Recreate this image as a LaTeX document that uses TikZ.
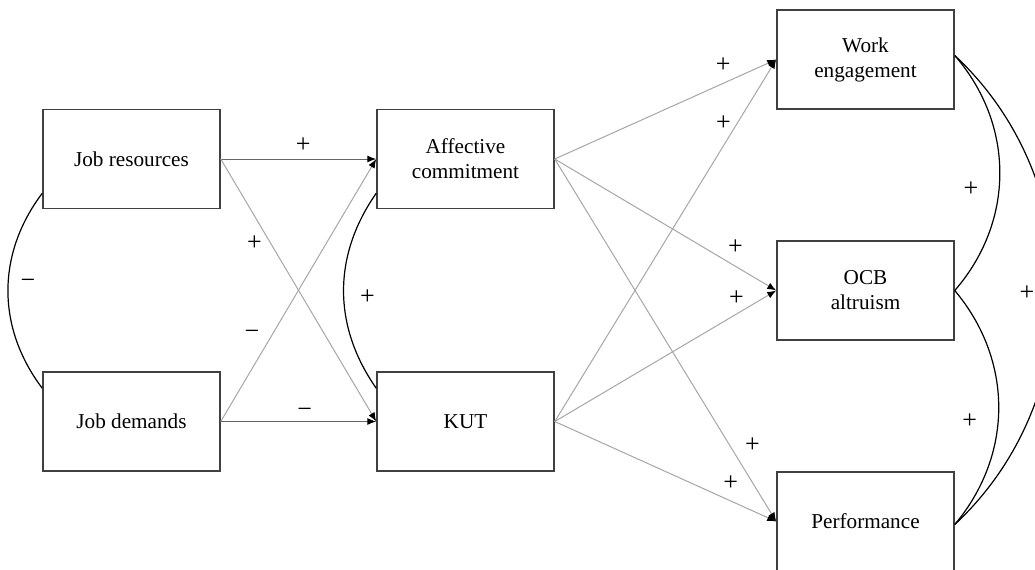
\documentclass[tikz,border=0pt]{standalone}
\usepackage{fontspec}
\setmainfont{Liberation Serif}
\usetikzlibrary{arrows.meta}

\begin{document}
\begin{tikzpicture}[x=0.5pt,y=-0.5pt,
	var/.style={draw=black!75,line width=0.75pt,minimum width=88.5pt,minimum height=49.5pt,align=center,font=\fontsize{10.6}{12.5}\selectfont},
	sign/.style={font=\fontsize{13}{13}\selectfont,inner sep=0pt},
	link/.style={draw=black!35,line width=0.5pt,-{Latex[length=4.5pt,width=3.5pt,color=black]}},
	mainlink/.style={link,draw=black!60},
	cov/.style={draw=black,line width=0.6pt}]
		\useasboundingbox (0,0) rectangle (1035,569);
		\node[var] (jr) at (131.5,159) {Job resources};
		\node[var] (jd) at (131.5,421.5) {Job demands};
		\node[var] (ac) at (465.5,159) {Affective\\commitment};
		\node[var] (kut) at (465.5,421.5) {KUT};
		\node[var] (we) at (865.5,59.5) {Work\\engagement};
		\node[var] (ocb) at (865.5,290.5) {OCB\\altruism};
		\node[var] (perf) at (865.5,521.5) {Performance};
		%
		\path
		(jr.east) edge[mainlink] node[sign,pos=.53,shift={(0,-14)}]{+} (ac.west)
		(jr.east) edge[link] node[sign,pos=.32,shift={(-16,0)}]{+} (kut.west)
		(jd.east) edge[link] node[sign,pos=.33,shift={(-20,0)}]{−} (ac.west)
		(jd.east) edge[mainlink] node[sign,pos=.54,shift={(0,-9)}]{−} (kut.west);
		%
		\path
		(ac.east) edge[link] node[sign,pos=.76,shift={(0,-18)}]{+} (we.west)
		(kut.east) edge[link] node[sign,pos=.825,shift={(-14,0)}]{+} (we.west)
		(ac.east) edge[link] node[sign,pos=.816,shift={(0,-19)}]{+} (ocb.west)
		(kut.east) edge[link] node[sign,pos=.82,shift={(0,-16)}]{+} (ocb.west)
		(ac.east) edge[link] node[sign,pos=.789,shift={(23,0)}]{+} (perf.west)
		(kut.east) edge[link] node[sign,pos=.794,shift={(0,-18)}]{+} (perf.west);
		%
		\path
		([yshift=8pt]jr.south west) edge[cov,bend right=37] node[sign,pos=.5,shift={(20,-7)}]{−} ([yshift=-8.5pt]jd.north west)
		([yshift=8pt]ac.south west) edge[cov,bend right=35] node[sign,pos=.5,shift={(24,6.5)}]{+} ([yshift=-8.5pt]kut.north west)
		([yshift=2pt]we.east) edge[cov,bend left=41] node[sign,pos=.5,shift={(-29,16.5)}]{+} (ocb.east)
		(ocb.east) edge[cov,bend left=40] node[sign,pos=.5,shift={(-29,14)}]{+} ([yshift=-1.5pt]perf.east)
		([yshift=2pt]we.east) edge[cov,bend left=47] node[sign,pos=.5,shift={(-28,3)}]{+} ([yshift=-1.5pt]perf.east);
\end{tikzpicture}
\end{document}
